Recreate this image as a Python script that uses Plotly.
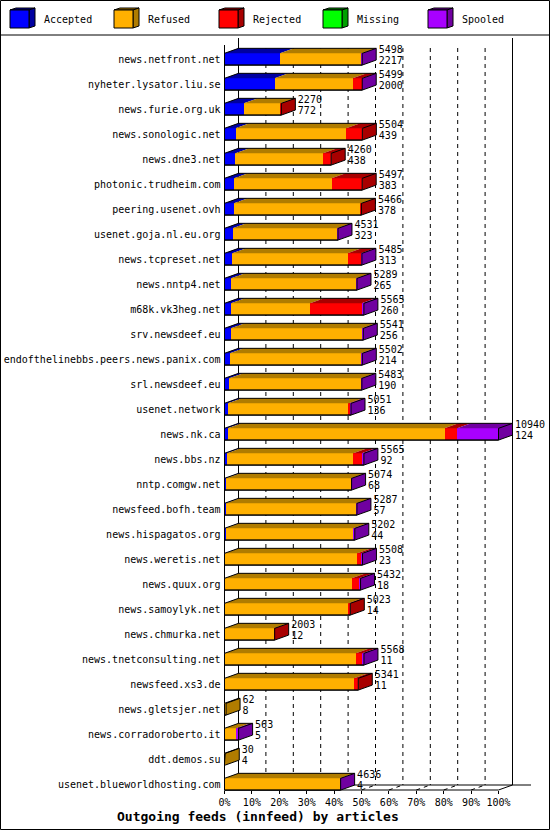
import plotly.graph_objects as go

hosts = [
    "news.netfront.net", "nyheter.lysator.liu.se", "news.furie.org.uk",
    "news.sonologic.net", "news.dne3.net", "photonic.trudheim.com",
    "peering.usenet.ovh", "usenet.goja.nl.eu.org", "news.tcpreset.net",
    "news.nntp4.net", "m68k.vk3heg.net", "srv.newsdeef.eu",
    "endofthelinebbs.peers.news.panix.com", "srl.newsdeef.eu", "usenet.network",
    "news.nk.ca", "news.bbs.nz", "nntp.comgw.net", "newsfeed.bofh.team",
    "news.hispagatos.org", "news.weretis.net", "news.quux.org",
    "news.samoylyk.net", "news.chmurka.net", "news.tnetconsulting.net",
    "newsfeed.xs3.de", "news.gletsjer.net", "news.corradoroberto.it",
    "ddt.demos.su", "usenet.blueworldhosting.com",
]
accepted = [2217, 2000, 772, 439, 438, 383, 378, 323, 313, 265, 260, 256, 214, 190, 136,
            124, 92, 68, 57, 44, 23, 18, 14, 12, 11, 11, 8, 5, 4, 4]
refused = [3271, 3120, 1468, 4424, 3502, 3896, 5068, 4178, 4600, 4994, 3158, 5235, 5248, 5263, 4825,
           8660, 5050, 4986, 5210, 5108, 5285, 5064, 4949, 1971, 5237, 5170, 54, 470, 26, 4612]
rejected = [0, 370, 30, 641, 320, 1218, 20, 0, 540, 0, 2060, 10, 0, 0, 50,
            500, 340, 0, 0, 0, 160, 300, 60, 20, 260, 160, 0, 0, 0, 0]
missing = [0, 0, 0, 0, 0, 0, 0, 0, 0, 0, 0, 0, 0, 0, 0,
           0, 0, 0, 0, 0, 0, 0, 0, 0, 0, 0, 0, 0, 0, 0]
spooled = [10, 9, 0, 0, 0, 0, 0, 30, 32, 30, 87, 40, 40, 30, 40,
           1656, 83, 20, 20, 50, 40, 50, 0, 0, 60, 0, 0, 88, 0, 20]

series = [
    ("Accepted", accepted, "#0000ff", "#0000a0"),
    ("Refused", refused, "#ffb000", "#b07c00"),
    ("Rejected", rejected, "#ff0000", "#a80000"),
    ("Missing", missing, "#00ff00", "#00a000"),
    ("Spooled", spooled, "#a800ff", "#7000a0"),
]

totals = [sum(v) for v in zip(accepted, refused, rejected, missing, spooled)]
top = max(totals)

W, H = 550, 830
X0, PX100 = 224.5, 274      # pixel of 0% and width of 100%
Y0, PITCH = 59.2, 25        # pixel of first row centre, row pitch
k = top / PX100
DX, DY = 14 * k, 5 / PITCH  # 3d depth
BW = 0.47
FONT = "DejaVu Sans Mono"


def xd(p):
    return (p - X0) * k


def yd(p):
    return (p - Y0) / PITCH


rows = list(range(len(hosts)))
fig = go.Figure()

# front faces
for name, vals, col, dark in series:
    fig.add_trace(go.Bar(y=rows, x=vals, orientation="h", width=BW, name=name,
                         marker=dict(color=col, line=dict(width=0))))

# top and side faces
polys = {dark: ([], []) for _, _, _, dark in series}
outline_x, outline_y = [], []
for r in rows:
    yt, yb = r - BW / 2, r + BW / 2
    x0 = 0
    last = None
    for name, vals, col, dark in series:
        v = vals[r]
        if v <= 0:
            continue
        x1 = x0 + v
        px, py = polys[dark]
        px += [x0, x1, x1 + DX, x0 + DX, x0, None]
        py += [yt, yt, yt - DY, yt - DY, yt, None]
        x0 = x1
        last = dark
    xe = totals[r]
    px, py = polys[last]
    px += [xe, xe + DX, xe + DX, xe, xe, None]
    py += [yt, yt - DY, yb - DY, yb, yt, None]
    outline_x += [0, xe, xe + DX, xe + DX, DX, 0, 0, xe, xe, None, xe, xe + DX, None]
    outline_y += [yb, yb, yb - DY, yt - DY, yt - DY, yt, yb, yb, yt, None, yt, yt - DY, None]

for dark, (px, py) in polys.items():
    if px:
        fig.add_trace(go.Scatter(x=px, y=py, mode="lines", fill="toself", fillcolor=dark,
                                 line=dict(width=0, color=dark)))
fig.add_trace(go.Scatter(x=outline_x, y=outline_y, mode="lines",
                         line=dict(color="black", width=1)))

# value labels
lx = [t + 16.5 * k for t in totals]
fig.add_trace(go.Scatter(x=lx, y=[r - 0.36 for r in rows], mode="text",
                         text=[str(t) for t in totals], textposition="middle right",
                         textfont=dict(family=FONT, size=10, color="black"), cliponaxis=False))
fig.add_trace(go.Scatter(x=lx, y=[r + 0.1 for r in rows], mode="text",
                         text=[str(a) for a in accepted], textposition="middle right",
                         textfont=dict(family=FONT, size=10, color="black"), cliponaxis=False))

shapes = []
blk = dict(color="black", width=1)
dash = dict(color="black", width=1, dash="4px,4px")
ticks = [top * i / 10 for i in range(11)]
# walls and floor
shapes.append(dict(type="line", xref="x", yref="y", x0=0, x1=0, y0=yd(45), y1=yd(790), line=blk, layer="below"))
shapes.append(dict(type="line", xref="x", yref="y", x0=DX, x1=DX, y0=yd(38), y1=yd(785), line=blk, layer="below"))
shapes.append(dict(type="line", xref="x", yref="y", x0=top + DX, x1=top + DX, y0=yd(38), y1=yd(785), line=blk, layer="below"))
shapes.append(dict(type="line", xref="x", yref="y", x0=DX, x1=xd(531), y0=yd(785), y1=yd(785), line=blk, layer="below"))
shapes.append(dict(type="line", xref="x", yref="y", x0=0, x1=top, y0=yd(790), y1=yd(790), line=blk, layer="below"))
shapes.append(dict(type="line", xref="x", yref="y", x0=top, x1=top + DX, y0=yd(790), y1=yd(785), line=blk, layer="below"))
shapes.append(dict(type="line", xref="x", yref="y", x0=0, x1=DX, y0=yd(790), y1=yd(785), line=blk, layer="below"))
for t in ticks[1:-1]:
    shapes.append(dict(type="line", xref="x", yref="y", x0=t + DX, x1=t + DX, y0=yd(48), y1=yd(785), line=dash, layer="below"))
    shapes.append(dict(type="line", xref="x", yref="y", x0=t, x1=t + DX, y0=yd(790), y1=yd(785), line=dash, layer="below"))

# frame
shapes.append(dict(type="rect", xref="paper", yref="paper", x0=0.5 / W, x1=1 - 0.5 / W,
                   y0=0.5 / H, y1=1 - 0.5 / H, line=blk))
shapes.append(dict(type="line", xref="paper", yref="paper", x0=0, x1=1,
                   y0=1 - 35 / H, y1=1 - 35 / H, line=blk))

# legend cubes
annotations = []
leg_x = [10, 114, 219, 323, 428]
for (name, _, col, dark), lxp in zip(series, leg_x):
    def P(x, y):
        return f"{x / W:.5f},{1 - y / H:.5f}"
    fx0, fx1, fy0, fy1, ddx, ddy = lxp, lxp + 19, 10, 28, 6, 2
    shapes.append(dict(type="path", xref="paper", yref="paper",
                       path=f"M{P(fx0, fy0)} L{P(fx0 + ddx, fy0 - ddy)} L{P(fx1 + ddx, fy0 - ddy)} L{P(fx1, fy0)} Z",
                       fillcolor=dark, line=blk))
    shapes.append(dict(type="path", xref="paper", yref="paper",
                       path=f"M{P(fx1, fy0)} L{P(fx1 + ddx, fy0 - ddy)} L{P(fx1 + ddx, fy1 - ddy)} L{P(fx1, fy1)} Z",
                       fillcolor=dark, line=blk))
    shapes.append(dict(type="rect", xref="paper", yref="paper", x0=fx0 / W, x1=fx1 / W,
                       y0=1 - fy1 / H, y1=1 - fy0 / H, fillcolor=col, line=blk))
    annotations.append(dict(xref="paper", yref="paper", x=(lxp + 31.5) / W, y=1 - 20 / H,
                            text=name, showarrow=False, xanchor="left", yanchor="middle",
                            font=dict(family=FONT, size=10, color="black")))

annotations.append(dict(xref="paper", yref="paper", x=401 / W, y=1 - 816 / H,
                        text="<b>Outgoing feeds (innfeed) by articles</b>", showarrow=False,
                        xanchor="right", yanchor="middle",
                        font=dict(family=FONT, size=13, color="black")))

fig.update_layout(
    width=W, height=H, margin=dict(l=0, r=0, t=0, b=0),
    barmode="stack", showlegend=False, hovermode=False,
    paper_bgcolor="white", plot_bgcolor="white",
    font=dict(family=FONT, size=10, color="black"),
    shapes=shapes, annotations=annotations,
    xaxis=dict(domain=[0, 1], range=[xd(0), xd(W)], anchor="free", position=1 - 790 / H,
               tickvals=ticks, ticktext=[f"{i * 10}%" for i in range(11)],
               ticks="outside", ticklen=3, tickcolor="black",
               showgrid=False, zeroline=False, showline=False),
    yaxis=dict(domain=[0, 1], range=[yd(H), yd(0)], anchor="free", position=X0 / W,
               tickvals=rows, ticktext=hosts, ticks="", ticklabelstandoff=4,
               showgrid=False, zeroline=False, showline=False),
)

# the page body has a default margin; drop it so the figure fills the window
fig.write_html("out.html", config={"displayModeBar": False},
               post_script="document.body.style.margin = '0';")
